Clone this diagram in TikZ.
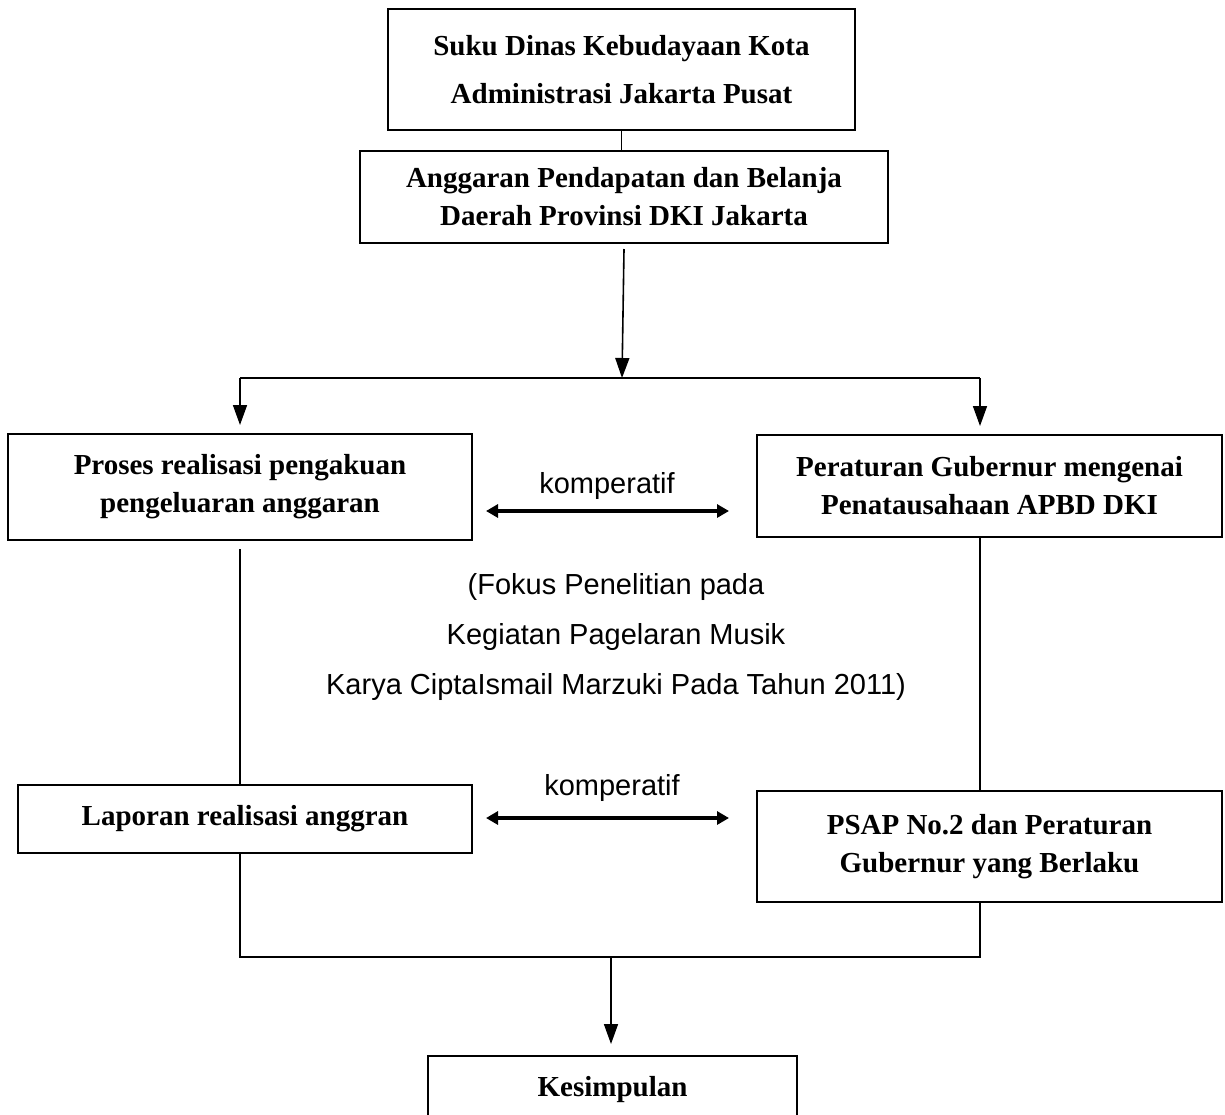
\documentclass[tikz,border=0pt]{standalone}
\usepackage{fontspec}
\setmainfont{Liberation Serif}
\setsansfont{Liberation Sans}
\usetikzlibrary{arrows.meta,calc}

\begin{document}
\begin{tikzpicture}[x=0.5pt,y=-0.5pt,
    box/.style={draw,line width=1pt,align=center,inner sep=0pt,
        font=\bfseries\fontsize{14.5}{19}\selectfont},
    link/.style={line width=0.8pt},
    flow/.style={link,-{Triangle[length=10pt,width=7pt]}},
    both/.style={line width=1.8pt,{Triangle[length=6pt,width=6.5pt]}-{Triangle[length=6pt,width=6.5pt]}},
    note/.style={font=\sffamily\fontsize{14.5}{25}\selectfont,align=center}]
    \fill[white] (0,0) rectangle (1225,1114);
    \useasboundingbox (0,0) rectangle (1225,1114);
    % boxes
    \node[box,minimum width=233.5pt,minimum height=60.5pt] (suku) at (621.5,69.5) {Suku Dinas Kebudayaan Kota\\[5pt]Administrasi Jakarta Pusat};
    \node[box,minimum width=264pt,minimum height=46pt] (apbd) at (624,197) {Anggaran Pendapatan dan Belanja\\Daerah Provinsi DKI Jakarta};
    \node[box,minimum width=232pt,minimum height=53pt] (proses) at (240,487) {Proses realisasi pengakuan\\pengeluaran anggaran};
    \node[box,minimum width=232.5pt,minimum height=51pt] (pergub) at (989.5,486) {Peraturan Gubernur mengenai\\Penatausahaan APBD DKI};
    \node[box,minimum width=227pt,minimum height=34pt] (lapor) at (245,819) {Laporan realisasi anggran};
    \node[box,minimum width=232.5pt,minimum height=55.5pt] (psap) at (989.5,846.5) {PSAP No.2 dan Peraturan\\Gubernur yang Berlaku};
    \node[box,minimum width=184.5pt,minimum height=34pt] (kesim) at (612.5,1090) {Kesimpulan};
    % texts
    \node[note] (komp1) at (607,486) {komperatif};
    \node[note] (komp2) at (612,788) {komperatif};
    \node[note] (fokus) at (616,637) {(Fokus Penelitian pada\\Kegiatan Pagelaran Musik\\Karya CiptaIsmail Marzuki Pada Tahun 2011)};
    % branch points
    \coordinate (split) at (622,378);
    \coordinate (ltop) at (240,378);
    \coordinate (rtop) at (980,378);
    \coordinate (join) at (611,957);
    % connectors
    \draw[link] (suku.south) -- (suku.south |- apbd.north);
    \draw[flow] ($(apbd.south)+(0,5)$) -- (split);
    \draw[link] (ltop) -- (rtop);
    \draw[flow,shorten >=4pt] (ltop) -- (proses.north);
    \draw[flow,shorten >=4pt] (rtop) -- (rtop |- pergub.north);
    \draw[link] ($(proses.south)+(0,8)$) -- (proses.south |- lapor.north);
    \draw[link] (rtop |- pergub.south) -- (rtop |- psap.north);
    \draw[link] (proses.south |- lapor.south) |- (join) -| (rtop |- psap.south);
    \draw[flow,shorten >=5.5pt] (join) -- (join |- kesim.north);
    \draw[both] ($(proses.east)+(13,24)$) -- ($(pergub.west)+(-27,25)$);
    \draw[both] ($(lapor.east)+(13,-1)$) -- ($(psap.west)+(-27,-28.5)$);
\end{tikzpicture}
\end{document}
